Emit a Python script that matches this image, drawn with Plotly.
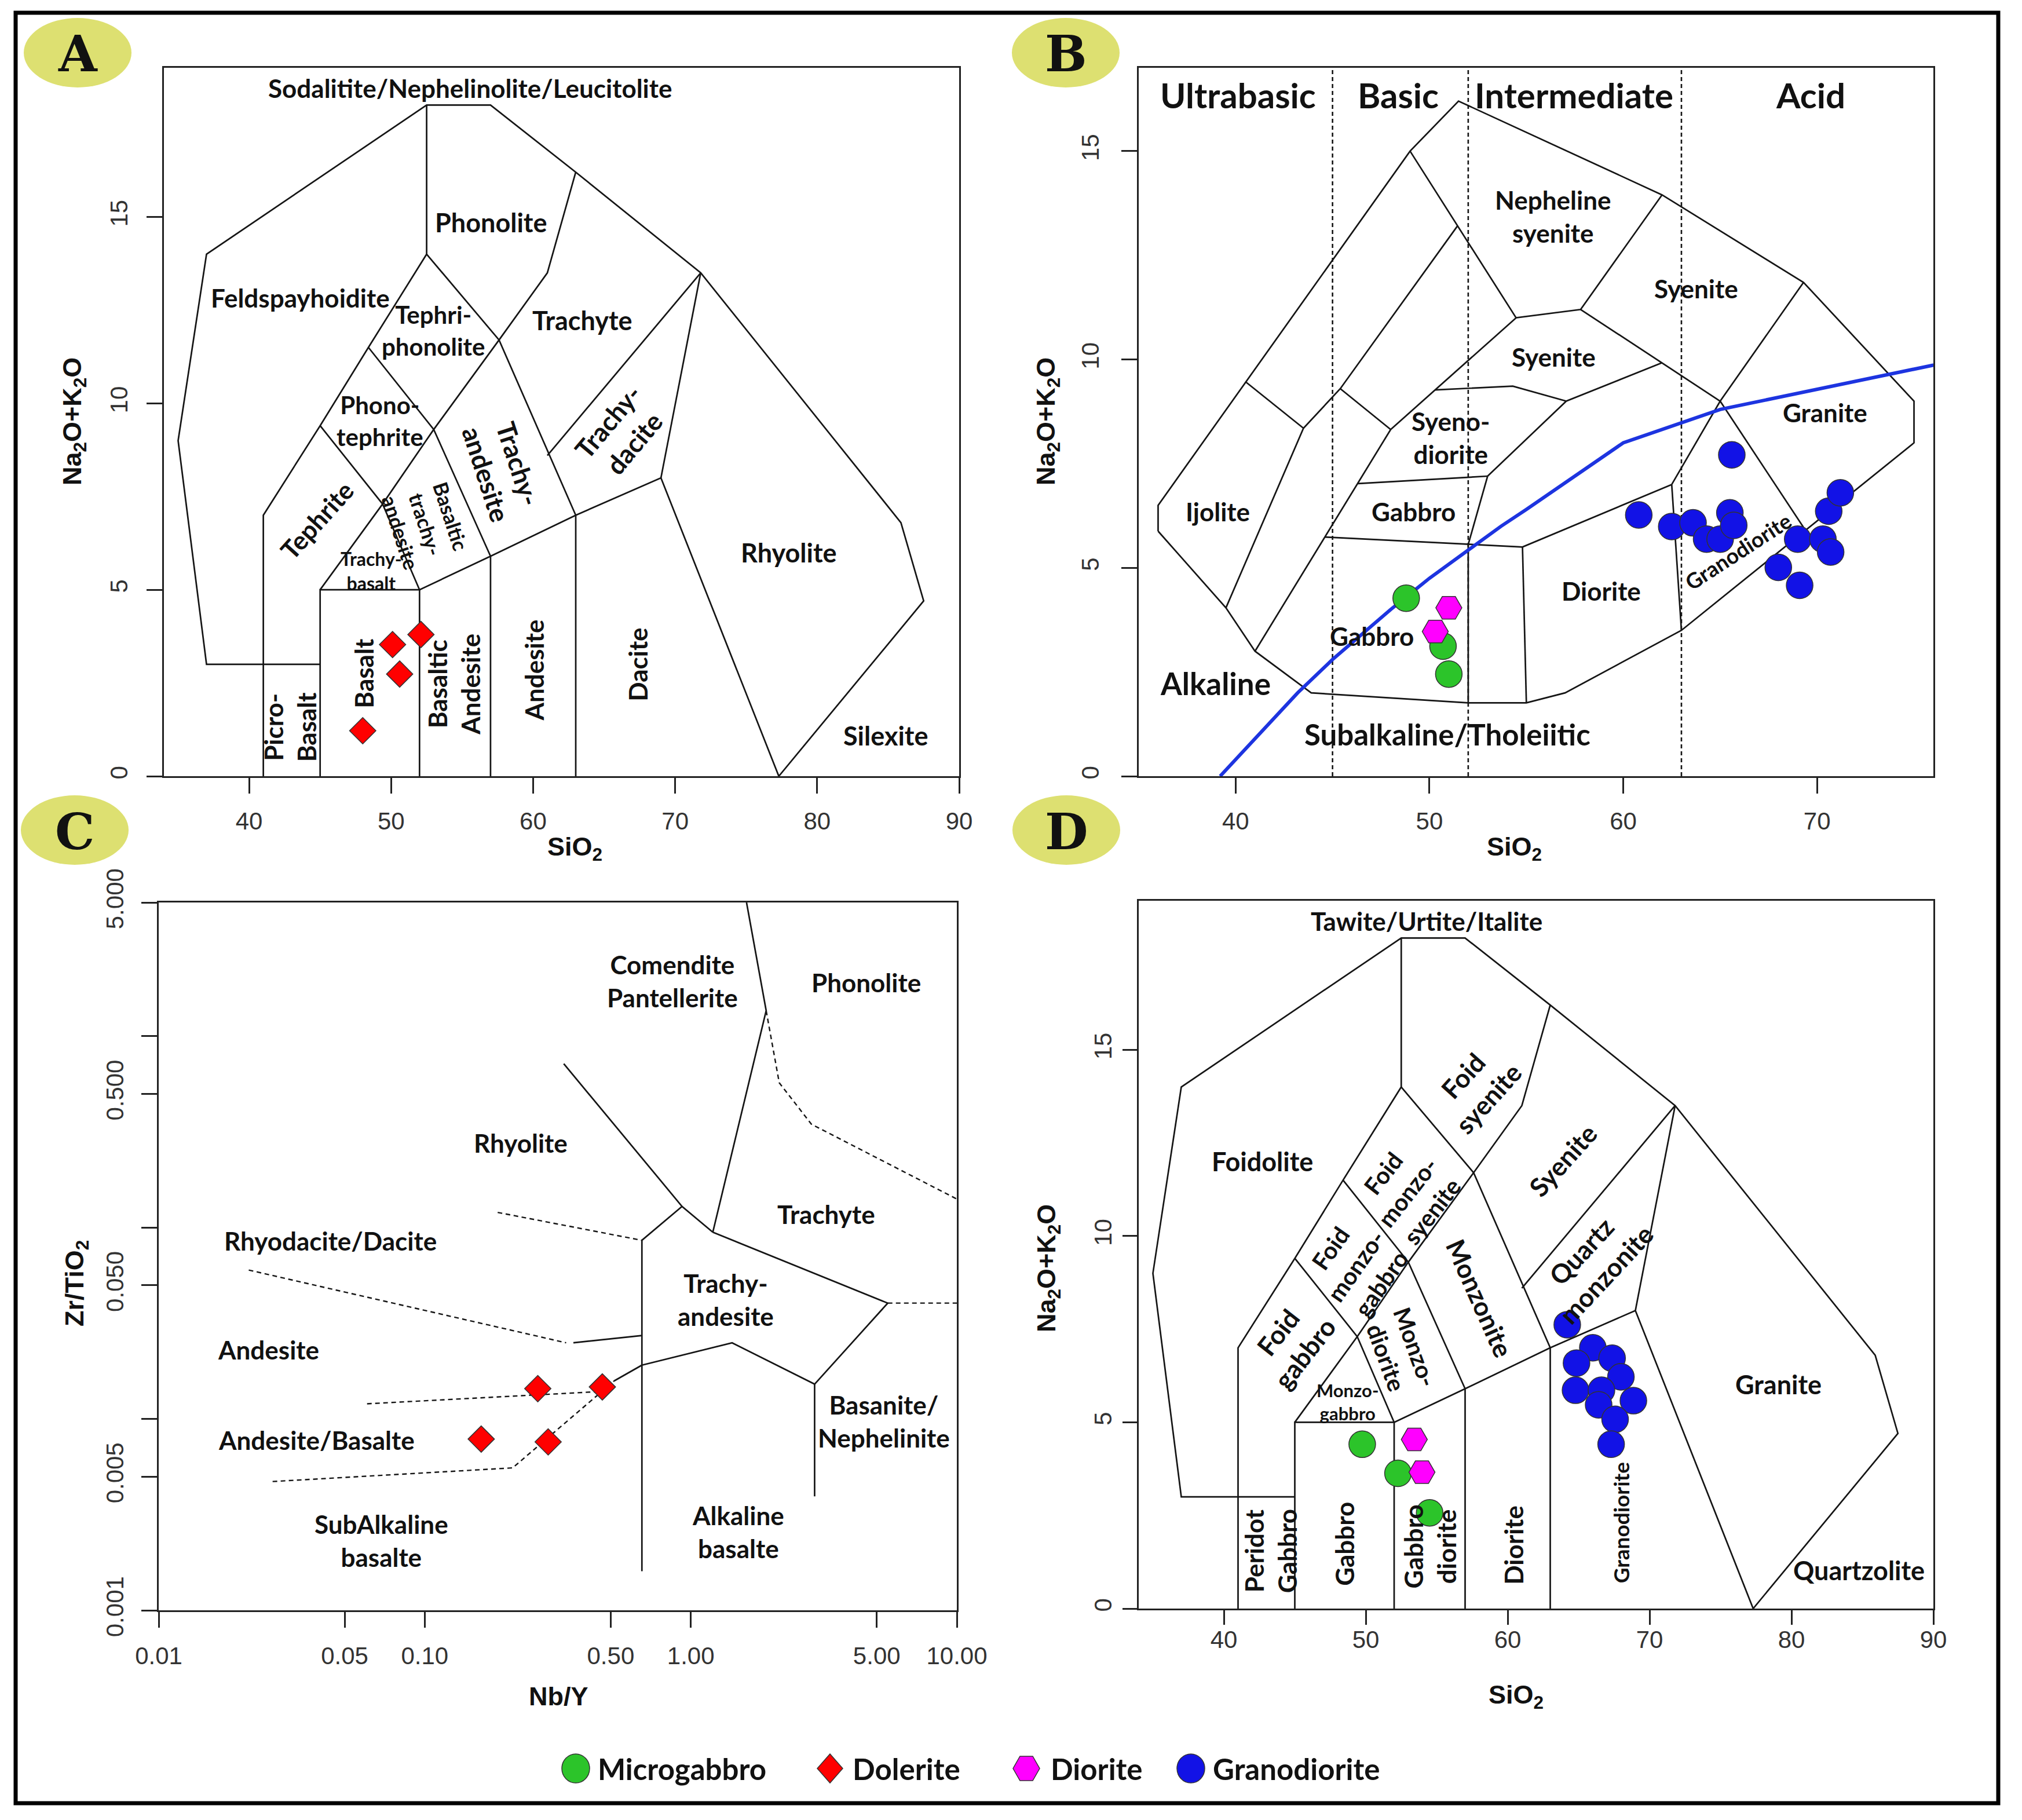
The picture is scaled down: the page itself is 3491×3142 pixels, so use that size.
import plotly.graph_objects as go
import math

W, H = 3491, 3142

# ------------------------------------------------------------------ data
# Panel A - TAS (Le Bas et al.), dolerite samples
A_dol_sio2 = [50.1, 52.1, 50.6, 48.0]
A_dol_alk = [3.53, 3.80, 2.74, 1.22]

# Panel B - plutonic TAS (Wilson 1989)
B_mg_sio2 = [48.8, 50.7, 51.0]
B_mg_alk = [4.27, 3.12, 2.45]
B_di_sio2 = [51.0, 50.3]
B_di_alk = [4.04, 3.47]
B_gd_sio2 = [60.8, 65.6, 62.5, 63.6, 64.3, 65.0, 65.5, 65.7, 68.0, 69.1, 69.0, 70.3, 70.7, 70.6, 71.2]
B_gd_alk = [6.27, 7.71, 5.99, 6.08, 5.69, 5.69, 6.32, 6.02, 5.01, 4.58, 5.69, 5.69, 5.38, 6.36, 6.80]

# Panel C - Zr/TiO2 vs Nb/Y (Winchester & Floyd 1977), dolerite samples
C_dol_nby = [0.266, 0.465, 0.163, 0.291]
C_dol_zrti = [0.0144, 0.0147, 0.00785, 0.00759]

# Panel D - plutonic TAS (Middlemost 1994)
D_mg_sio2 = [49.75, 52.27, 54.5]
D_mg_alk = [4.41, 3.63, 2.57]
D_di_sio2 = [53.42, 53.96]
D_di_alk = [4.54, 3.66]
D_gd_sio2 = [64.2, 66.0, 64.85, 67.36, 67.98, 64.78, 66.61, 66.41, 68.86, 67.57, 67.29]
D_gd_alk = [7.62, 7.00, 6.59, 6.72, 6.22, 5.86, 5.86, 5.47, 5.58, 5.08, 4.41]

# Field boundaries of the TAS diagram (panels A and D)
TAS_lines = [
    ([77.3, 87.5, 85.9, 71.8, 63, 57, 52.5, 37, 35, 37, 45], [0, 4.7, 6.8, 13.5, 16.2, 18, 18, 14, 9, 3, 3]),
    ([41, 41, 45, 48.4, 52.5, 52.5], [0, 7, 9.4, 11.5, 14, 18]),
    ([45, 45, 52, 52], [0, 5, 5, 0]),
    ([52, 57, 63, 69, 77.3], [5, 5.9, 7, 8, 0]),
    ([57, 57], [0, 5.9]),
    ([63, 63], [0, 7]),
    ([45, 49.4, 52], [5, 7.3, 5]),
    ([45, 49.4, 53, 57.6], [9.4, 7.3, 9.3, 11.7]),
    ([48.4, 53, 57], [11.5, 9.3, 5.9]),
    ([52.5, 57.6, 63], [14, 11.7, 7]),
    ([57.6, 61, 63], [11.7, 13.5, 16.2]),
    ([61, 71.8], [8.6, 13.5]),
    ([69, 71.8], [8, 13.5]),
]

# Field boundaries of the plutonic diagram (panel B)
PLUT_lines = [
    ([36, 39.5, 41, 43.9, 52, 55, 57, 63, 75, 75, 69.3, 62, 51.5, 49, 36, 36],
     [5.88, 4.04, 3.0, 2.0, 1.76, 1.76, 2.0, 3.5, 8.0, 9.0, 11.85, 13.95, 16.2, 15.0, 6.5, 5.88]),
    ([40.5, 43.5], [9.47, 8.35]),
    ([39.5, 43.5, 45.4, 51.44], [4.04, 8.35, 9.3, 13.2]),
    ([45.4, 48], [9.3, 8.32]),
    ([41, 48], [3.0, 8.32]),
    ([46.3, 53.0], [7.02, 7.2]),
    ([44.6, 52, 54.8, 62.5], [5.74, 5.56, 5.5, 7.0]),
    ([52, 52], [1.76, 5.56]),
    ([53.0, 52], [7.2, 5.56]),
    ([54.8, 55], [5.5, 1.76]),
    ([62.5, 63], [7.0, 3.5]),
    ([62.5, 65, 69.3], [7.0, 9.0, 11.85]),
    ([65, 69.4], [9.0, 5.9]),
    ([53.0, 57.06, 62], [7.2, 9.0, 9.92]),
    ([57.8, 65], [11.2, 9.0]),
    ([50.3, 54.3, 57.06], [9.27, 9.36, 9.0]),
    ([48, 54.47], [8.32, 11.0]),
    ([49, 54.47, 57.8, 62], [15.0, 11.0, 11.2, 13.95]),
]
PLUT_dividers = [45, 52, 63]
# Irvine & Baragar (1971) alkaline / subalkaline divide
IB_sio2 = [39.2, 40, 43.2, 45, 48, 50, 53.7, 55, 60, 65, 77.4]
IB_alk = [0, 0.4, 2, 2.8, 4, 4.75, 6, 6.4, 8, 8.8, 10]

# Field boundaries of the Winchester & Floyd diagram (panel C)
WF_solid = [
    ([1.62, 1.92, 1.21], [5.0, 1.36, 0.0946]),
    ([0.333, 0.927, 1.21], [0.718, 0.129, 0.0946]),
    ([0.927, 0.655, 0.655], [0.129, 0.0858, 0.0016]),
    ([1.21, 5.5, 2.92, 1.43, 0.655], [0.0946, 0.0403, 0.0152, 0.025, 0.0191]),
    ([2.92, 2.92], [0.0152, 0.00394]),
    ([0.362, 0.655], [0.025, 0.0273]),
    ([0.515, 0.655], [0.0158, 0.0191]),
]
WF_dashed = [
    ([0.0218, 0.34], [0.060, 0.025]),
    ([0.188, 0.655], [0.120, 0.0858]),
    ([0.0607, 0.487], [0.0120, 0.01397]),
    ([0.0268, 0.214, 0.515], [0.00471, 0.00555, 0.0158]),
    ([1.92, 2.15, 2.84, 10], [1.36, 0.571, 0.347, 0.141]),
    ([5.5, 10], [0.0403, 0.0403]),
]

# Tick labels
TAS_xticks = [40, 50, 60, 70, 80, 90]
PLUT_xticks = [40, 50, 60, 70]
ALK_yticks = [0, 5, 10, 15]
C_xticks = [0.01, 0.05, 0.1, 0.5, 1, 5, 10]
C_xticktext = ["0.01", "0.05", "0.10", "0.50", "1.00", "5.00", "10.00"]
C_yticks = [0.001, 0.005, 0.05, 0.5, 5]
C_yticktext = ["0.001", "0.005", "0.050", "0.500", "5.000"]
C_yminor = [0.01, 0.1, 1]

legend_names = ["Microgabbro", "Dolerite", "Diorite", "Granodiorite"]

# ------------------------------------------------------------------ styles
C_GREEN = "#2cc42a"
C_RED = "#ff0000"
C_MAG = "#ff00ff"
C_BLUE = "#1212e6"
C_BADGE = "#dde071"
LINE_C = "#151515"
LBL_FONT = "Lato"
TICK_FONT = "Liberation Sans"


def px(x):
    return x / W


def py(y):
    return 1 - y / H


def join(lines):
    xs, ys = [], []
    for lx, ly in lines:
        xs += list(lx) + [None]
        ys += list(ly) + [None]
    return xs, ys


fig = go.Figure()


def add_lines(lines, xa, ya, dash="solid", color=LINE_C, width=2.7):
    xs, ys = join(lines)
    fig.add_trace(go.Scatter(x=xs, y=ys, mode="lines", xaxis=xa, yaxis=ya,
                             line=dict(color=color, width=width, dash=dash),
                             hoverinfo="skip", showlegend=False))


def add_pts(x, y, xa, ya, color, symbol, size, name):
    fig.add_trace(go.Scatter(x=x, y=y, mode="markers", xaxis=xa, yaxis=ya, name=name,
                             marker=dict(color=color, symbol=symbol, size=size,
                                         line=dict(color="#333333", width=1.5)),
                             showlegend=False))


# Panel A
add_lines(TAS_lines, "x", "y")
add_pts(A_dol_sio2, A_dol_alk, "x", "y", C_RED, "diamond", 35, "Dolerite")

# Panel B
add_lines(PLUT_lines, "x2", "y2")
add_lines([([v, v], [0, 17]) for v in PLUT_dividers], "x2", "y2", dash="7px,5px", width=2.6)
add_lines([(IB_sio2, IB_alk)], "x2", "y2", color="#1d34e0", width=6)
add_pts(B_mg_sio2, B_mg_alk, "x2", "y2", C_GREEN, "circle", 46, "Microgabbro")
add_pts(B_di_sio2, B_di_alk, "x2", "y2", C_MAG, "hexagon2", 45, "Diorite")
add_pts(B_gd_sio2, B_gd_alk, "x2", "y2", C_BLUE, "circle", 46, "Granodiorite")

# Panel C
add_lines(WF_solid, "x3", "y3")
add_lines(WF_dashed, "x3", "y3", dash="8px,6px", width=2.4)
add_pts(C_dol_nby, C_dol_zrti, "x3", "y3", C_RED, "diamond", 35, "Dolerite")

# Panel D
add_lines(TAS_lines, "x4", "y4")
add_pts(D_mg_sio2, D_mg_alk, "x4", "y4", C_GREEN, "circle", 46, "Microgabbro")
add_pts(D_di_sio2, D_di_alk, "x4", "y4", C_MAG, "hexagon2", 45, "Diorite")
add_pts(D_gd_sio2, D_gd_alk, "x4", "y4", C_BLUE, "circle", 46, "Granodiorite")

# ------------------------------------------------------------------ axes
axis_common = dict(showline=True, mirror=True, linecolor="#222222", linewidth=3,
                   ticks="outside", ticklen=27, tickwidth=2.5, tickcolor="#222222",
                   showgrid=False, zeroline=False, automargin=False,
                   tickfont=dict(family=TICK_FONT, size=42, color="#333333"))

def xax(domain, rng, tickvals, standoff, anchor, typ="linear", ticktext=None, ticklen=27):
    d = dict(axis_common, domain=domain, range=rng, tickvals=tickvals, anchor=anchor,
             type=typ, ticklabelstandoff=standoff, tickangle=0, ticklen=ticklen)
    if ticktext is not None:
        d["ticktext"] = ticktext
    return d

def yax(domain, rng, tickvals, standoff, anchor, typ="linear", ticktext=None, ticklen=27):
    d = dict(axis_common, domain=domain, range=rng, tickvals=tickvals, anchor=anchor,
             type=typ, ticklabelstandoff=standoff, tickangle=-90, ticklen=ticklen)
    if ticktext is not None:
        d["ticktext"] = ticktext
    return d

dA_x = [px(283), px(1656)]
dA_y = [py(1340), py(117)]
dB_x = [px(1966), px(3338)]
dC_x = [px(274), px(1652)]
dC_y = [py(2780), py(1558)]
dD_y = [py(2777), py(1555)]

yC = yax(dC_y, [-3, math.log10(5)], C_yticks, 14, "x3", "log", C_yticktext)
yC["minor"] = dict(tickvals=C_yminor, ticks="outside", ticklen=27, tickwidth=2.5,
                   tickcolor="#222222", showgrid=False)

fig.update_layout(
    xaxis=xax(dA_x, [34, 90], TAS_xticks, 12, "y"),
    yaxis=yax(dA_y, [0, 19], ALK_yticks, 16, "x"),
    xaxis2=xax(dB_x, [35, 76], PLUT_xticks, 12, "y2"),
    yaxis2=yax(dA_y, [0, 17], ALK_yticks, 22, "x2"),
    xaxis3=xax(dC_x, [-2, 1], C_xticks, 13, "y3", "log", C_xticktext),
    yaxis3=yC,
    xaxis4=xax(dB_x, [34, 90], TAS_xticks, -10, "y4", ticklen=25),
    yaxis4=yax(dD_y, [0, 19], ALK_yticks, 2, "x4", ticklen=25),
)

# ------------------------------------------------------------------ labels
ann = []

def lab(xr, yr, x, y, text, size=37, angle=0, bold=True, color="#111111"):
    t = "<b>" + text + "</b>" if bold else text
    ann.append(dict(xref=xr, yref=yr, x=x, y=y, text=t, showarrow=False, textangle=angle,
                    font=dict(family=LBL_FONT, size=size, color=color),
                    xanchor="center", yanchor="middle"))

# Panel A labels
for x, y, t, s, a in [
    (55.55, 18.45, "Sodalitite/Nephelinolite/Leucitolite", 44, 0),
    (57.04, 14.85, "Phonolite", 45, 0),
    (43.6, 12.84, "Feldspayhoidite", 44, 0),
    (52.96, 11.96, "Tephri-<br>phonolite", 42, 0),
    (63.48, 12.22, "Trachyte", 45, 0),
    (49.2, 9.53, "Phono-<br>tephrite", 42, 0),
    (57.8, 8.24, "Trachy-<br>andesite", 45, 72),
    (66.2, 9.22, "Trachy-<br>dacite", 45, -50),
    (44.76, 6.87, "Tephrite", 44, -48),
    (52.45, 6.75, "Basaltic<br>trachy-<br>andesite", 35, 72),
    (48.6, 5.5, "Trachy-<br>basalt", 32, 0),
    (78.0, 5.99, "Rhyolite", 45, 0),
    (48.07, 2.77, "Basalt", 44, -90),
    (54.4, 2.46, "Basaltic<br>Andesite", 44, -90),
    (60.08, 2.84, "Andesite", 44, -90),
    (67.33, 2.99, "Dacite", 44, -90),
    (42.86, 1.32, "Picro-<br>Basalt", 44, -90),
    (84.8, 1.09, "Silexite", 45, 0),
]:
    lab("x", "y", x, y, t, s, a)

# Panel B labels
for x, y, t, s, a in [
    (40.13, 16.35, "Ultrabasic", 60, 0),
    (48.39, 16.35, "Basic", 60, 0),
    (57.47, 16.35, "Intermediate", 60, 0),
    (69.67, 16.35, "Acid", 60, 0),
    (56.37, 13.43, "Nepheline<br>syenite", 44, 0),
    (63.77, 11.7, "Syenite", 44, 0),
    (56.41, 10.07, "Syenite", 44, 0),
    (51.1, 8.12, "Syeno-<br>diorite", 44, 0),
    (70.4, 8.73, "Granite", 44, 0),
    (39.07, 6.35, "Ijolite", 44, 0),
    (49.18, 6.35, "Gabbro", 44, 0),
    (58.86, 4.45, "Diorite", 44, 0),
    (47.03, 3.36, "Gabbro", 44, 0),
    (38.97, 2.23, "Alkaline", 53, 0),
    (50.94, 1.01, "Subalkaline/Tholeiitic", 51, 0),
]:
    lab("x2", "y2", x, y, t, s, a)
lab("x2", "y2", 65.92, 5.4, "Granodiorite", 37, -33)

# Panel C labels
for x, y, t in [
    (0.852, 1.94, "Comendite<br>Pantellerite"),
    (4.57, 1.91, "Phonolite"),
    (0.229, 0.277, "Rhyolite"),
    (3.23, 0.118, "Trachyte"),
    (0.0443, 0.0851, "Rhyodacite/Dacite"),
    (1.35, 0.042, "Trachy-<br>andesite"),
    (0.0258, 0.023, "Andesite"),
    (0.0392, 0.00774, "Andesite/Basalte"),
    (5.31, 0.00973, "Basanite/<br>Nephelinite"),
    (0.0686, 0.00231, "SubAlkaline<br>basalte"),
    (1.508, 0.00258, "Alkaline<br>basalte"),
]:
    lab("x3", "y3", math.log10(x), math.log10(y), t, 44, 0)

# Panel D labels
for x, y, t, s, a in [
    (54.28, 18.46, "Tawite/Urtite/Italite", 44, 0),
    (42.72, 12.01, "Foidolite", 45, 0),
    (57.77, 14.0, "Foid<br>syenite", 45, -48),
    (63.89, 12.04, "Syenite", 45, -48),
    (52.92, 11.17, "Foid<br>monzo-<br>syenite", 41, -52),
    (49.29, 9.19, "Foid<br>monzo-<br>gabbro", 41, -55),
    (58.04, 8.32, "Monzonite", 45, 66),
    (66.07, 9.27, "Quartz<br>monzonite", 45, -47),
    (44.76, 7.13, "Foid<br>gabbro", 45, -52),
    (52.47, 6.89, "Monzo-<br>diorite", 41, 70),
    (48.7, 5.55, "Monzo-<br>gabbro", 31, 0),
    (79.08, 6.02, "Granite", 45, 0),
    (43.26, 1.55, "Peridot<br>Gabbro", 44, -90),
    (48.48, 1.74, "Gabbro", 44, -90),
    (54.5, 1.66, "Gabbro<br>diorite", 44, -90),
    (60.4, 1.71, "Diorite", 44, -90),
    (84.74, 1.03, "Quartzolite", 45, 0),
]:
    lab("x4", "y4", x, y, t, s, a)
lab("x4", "y4", 67.97, 2.3, "Granodiorite", 37, -90)

# Axis titles
NAK = "<b>Na<sub>2</sub>O+K<sub>2</sub>O</b>"
SIO = "<b>SiO<sub>2</sub></b>"
for (x, y, t, a) in [
    (128, 728, NAK, -90), (992, 1465, SIO, 0),
    (1809, 728, NAK, -90), (2614, 1465, SIO, 0),
    (131, 2216, "<b>Zr/TiO<sub>2</sub></b>", -90), (964, 2928, "<b>Nb/Y</b>", 0),
    (1809, 2190, NAK, -90), (2617, 2928, SIO, 0),
]:
    ann.append(dict(xref="paper", yref="paper", x=px(x), y=py(y), text=t, showarrow=False,
                    textangle=a, font=dict(family=TICK_FONT, size=45, color="#111111"),
                    xanchor="center", yanchor="middle"))

# Panel badges
shapes = []
for letter, cx, cy in [("A", 134, 91), ("B", 1840, 91), ("C", 129, 1433), ("D", 1841, 1433)]:
    shapes.append(dict(type="circle", xref="paper", yref="paper",
                       x0=px(cx - 93), x1=px(cx + 93), y0=py(cy + 60), y1=py(cy - 60),
                       fillcolor=C_BADGE, line=dict(width=0), layer="below"))
    ann.append(dict(xref="paper", yref="paper", x=px(cx), y=py(cy + 2), text="<b>" + letter + "</b>",
                    showarrow=False, font=dict(family="DejaVu Serif", size=86, color="#111111"),
                    xanchor="center", yanchor="middle"))

# Outer border
shapes.append(dict(type="rect", xref="paper", yref="paper", x0=px(27), x1=px(3450),
                   y0=py(3113), y1=py(22), line=dict(color="black", width=7)))

# Custom legend (layout decoration)
leg_y = py(3053)
leg_marker_x = [994, 1433, 1772, 2056]
leg_text_x = [1030, 1470, 1812, 2092]
leg_paths = [
    None,
    "M -22 0 L 0 25 L 22 0 L 0 -25 Z",
    "M -23 0 L -11 21 L 11 21 L 23 0 L 11 -21 L -11 -21 Z",
    None,
]
leg_colors = [C_GREEN, C_RED, C_MAG, C_BLUE]
for name, mx, tx, pth, col in zip(legend_names, leg_marker_x, leg_text_x, leg_paths, leg_colors):
    if pth is None:
        shapes.append(dict(type="circle", xref="paper", yref="paper", xsizemode="pixel",
                           ysizemode="pixel", xanchor=px(mx), yanchor=leg_y,
                           x0=-24, x1=24, y0=-25, y1=25, fillcolor=col,
                           line=dict(color="#333333", width=1.5)))
    else:
        shapes.append(dict(type="path", xref="paper", yref="paper", xsizemode="pixel",
                           ysizemode="pixel", xanchor=px(mx), yanchor=leg_y, path=pth,
                           fillcolor=col, line=dict(color="#333333", width=1.5)))
    ann.append(dict(xref="paper", yref="paper", x=px(tx), y=leg_y, text="<b>" + name + "</b>",
                    showarrow=False, xanchor="left", yanchor="middle",
                    font=dict(family=LBL_FONT, size=51, color="#111111")))

fig.update_layout(
    width=W, height=H, margin=dict(l=0, r=0, t=0, b=0, pad=0, autoexpand=False),
    paper_bgcolor="white", plot_bgcolor="white",
    showlegend=False, annotations=ann, shapes=shapes,
)

fig.write_html("out.html", post_script="document.body.style.margin='0';",
               config={"displayModeBar": False})
